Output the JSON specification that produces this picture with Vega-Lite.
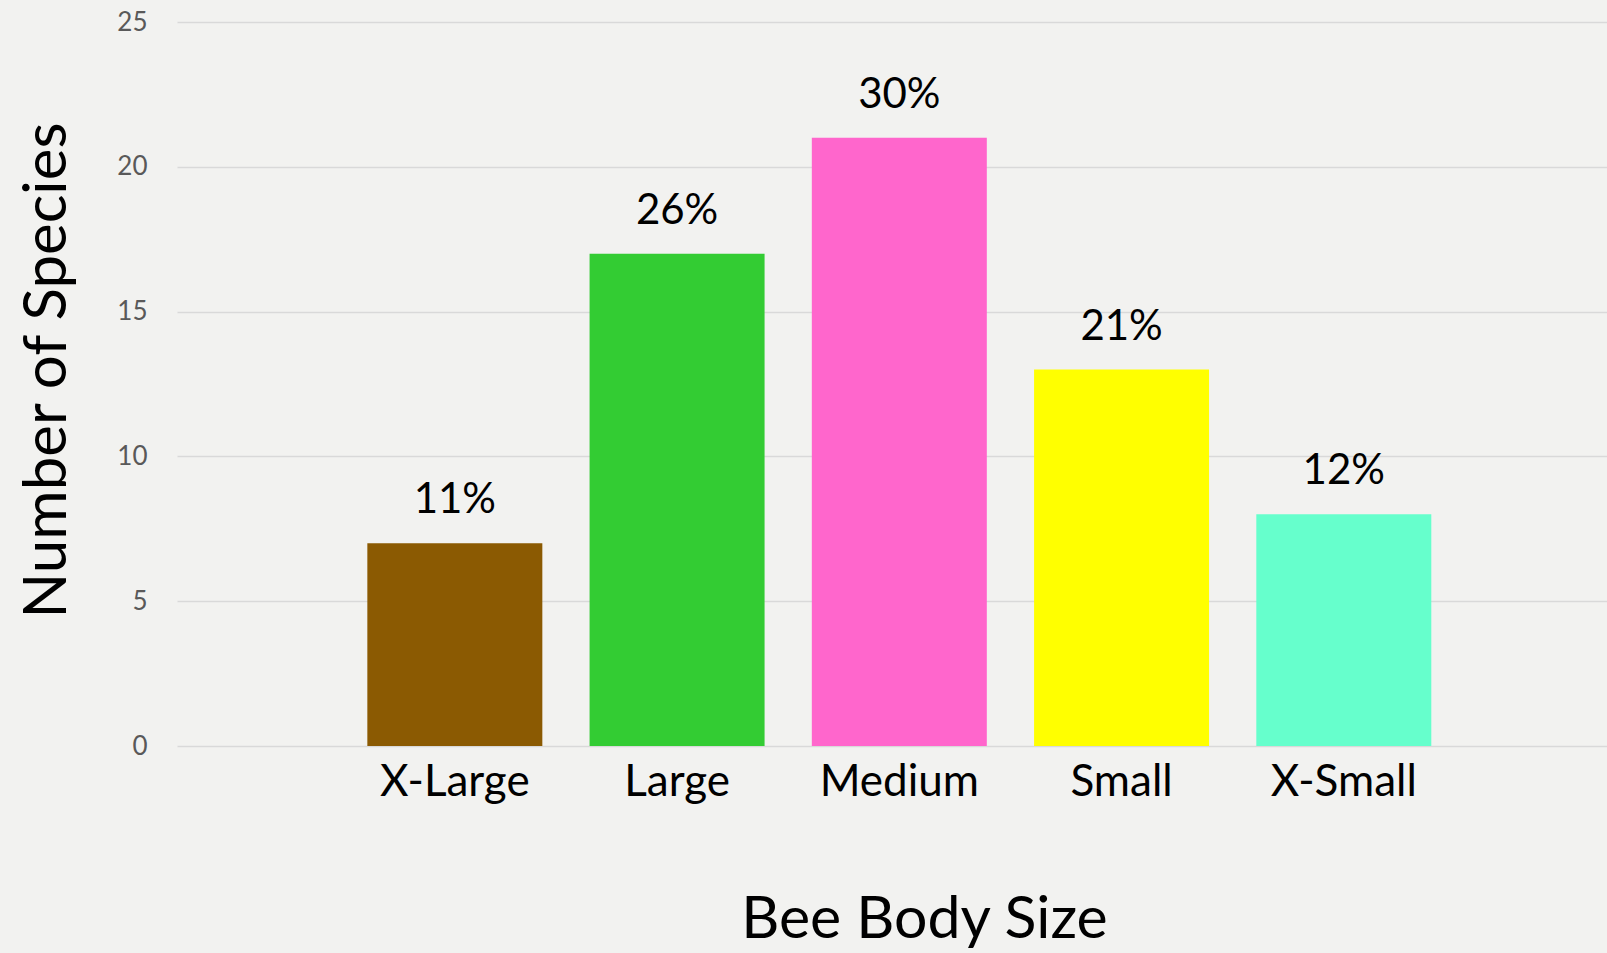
{
  "$schema": "https://vega.github.io/schema/vega-lite/v6.json",
  "width": 1430,
  "height": 724,
  "autosize": {"type": "none"},
  "padding": {"left": 177, "top": 22, "right": 0, "bottom": 207},
  "background": "#f2f2f0",
  "config": {
    "font": "Lato",
    "view": {"stroke": null}
  },
  "data": {
    "values": [
      {"size": "X-Large", "count": 7, "pct": "11%"},
      {"size": "Large", "count": 17, "pct": "26%"},
      {"size": "Medium", "count": 21, "pct": "30%"},
      {"size": "Small", "count": 13, "pct": "21%"},
      {"size": "X-Small", "count": 8, "pct": "12%"}
    ]
  },
  "encoding": {
    "x": {
      "field": "size",
      "type": "nominal",
      "sort": null,
      "scale": {"paddingInner": 0.2126, "paddingOuter": 0.8235, "align": 0.52},
      "axis": {
        "title": "Bee Body Size",
        "titleFontSize": 59,
        "titleFontWeight": "normal",
        "titleColor": "#000000",
        "titleX": 747,
        "titleY": 191,
        "titleAlign": "center",
        "titleBaseline": "alphabetic",
        "labelAngle": 0,
        "labelFontSize": 44,
        "labelColor": "#000000",
        "labelPadding": 14,
        "domain": false,
        "ticks": false,
        "grid": false
      }
    },
    "y": {
      "field": "count",
      "type": "quantitative",
      "scale": {"domain": [0, 25], "nice": false},
      "axis": {
        "title": "Number of Species",
        "titleFontSize": 60,
        "titleFontWeight": "normal",
        "titleColor": "#000000",
        "titleX": -112,
        "titleY": 348,
        "titleAngle": -90,
        "titleAlign": "center",
        "titleBaseline": "alphabetic",
        "values": [0, 5, 10, 15, 20, 25],
        "labelFontSize": 26,
        "labelColor": "#595959",
        "labelPadding": 30,
        "domain": false,
        "ticks": false,
        "grid": true,
        "gridColor": "#d9d9d9",
        "gridWidth": 1.5
      }
    }
  },
  "layer": [
    {
      "mark": {"type": "bar"},
      "encoding": {
        "color": {
          "field": "size",
          "type": "nominal",
          "scale": {
            "domain": ["X-Large", "Large", "Medium", "Small", "X-Small"],
            "range": ["#8b5a02", "#33cc33", "#ff66cc", "#ffff00", "#66ffcc"]
          },
          "legend": null
        }
      }
    },
    {
      "mark": {"type": "text", "fontSize": 42, "baseline": "alphabetic", "dy": -30, "color": "#000000"},
      "encoding": {
        "text": {"field": "pct", "type": "nominal"}
      }
    }
  ]
}
